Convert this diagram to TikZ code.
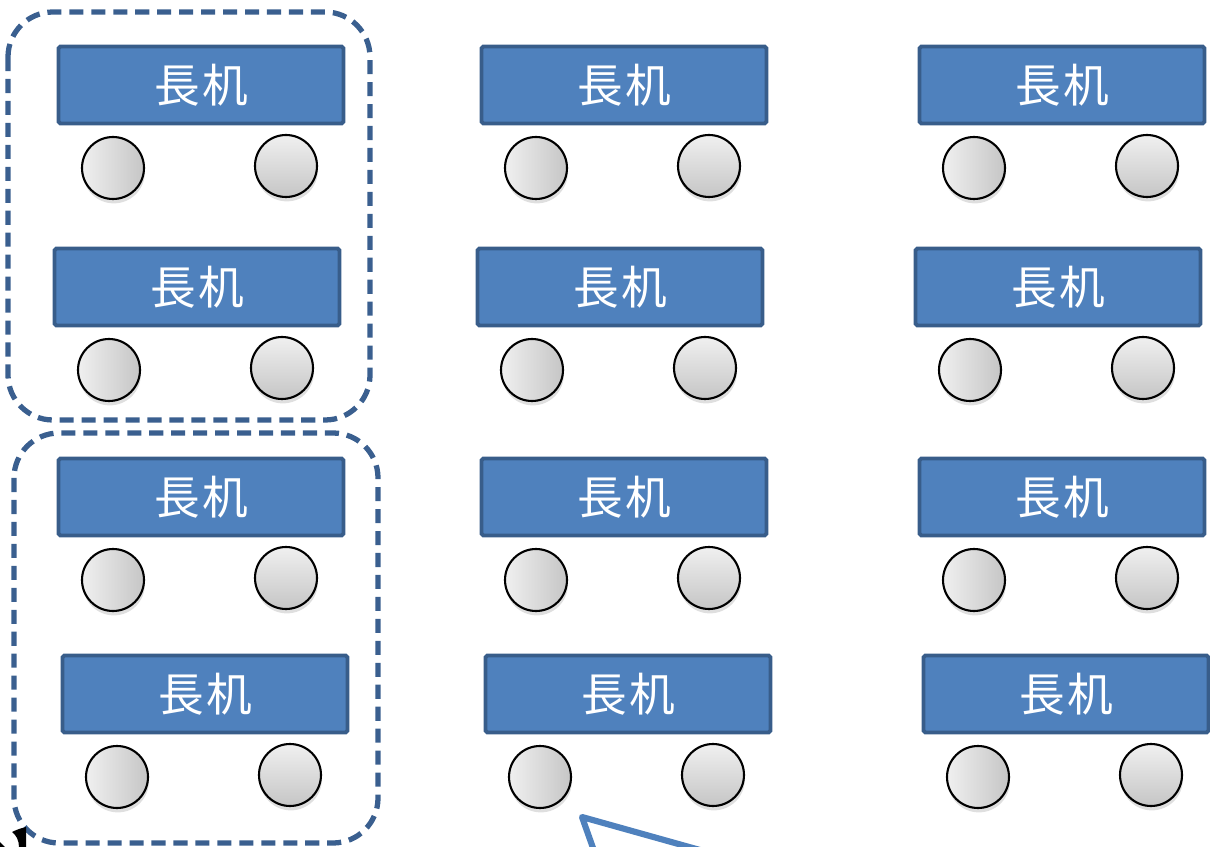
\documentclass[tikz,border=0pt]{standalone}
\usepackage{fontspec}
\newfontfamily\cjk{Noto Sans CJK JP}
\usepackage{tikz}
\usetikzlibrary{calc,shadows}
\definecolor{deskblue}{RGB}{79,129,189}
\definecolor{deskedge}{RGB}{56,93,138}
\definecolor{groupblue}{RGB}{58,95,143}
\definecolor{calloutblue}{RGB}{79,129,189}

\begin{document}
\begin{tikzpicture}[
  x=0.02cm, y=-0.02cm,
  desk/.style={draw=deskedge, fill=deskblue, line width=2.2pt, rounded corners=1pt, minimum width=5.7cm, minimum height=1.54cm, inner sep=0pt, text=white, font=\cjk\fontsize{26}{26}\selectfont},
  chairl/.style={circle, draw=black, line width=1.2pt, minimum size=1.24cm, inner sep=0pt, left color=gray!12, right color=gray!45, drop shadow={shadow xshift=0.5pt, shadow yshift=-2.5pt, opacity=0.25}},
  chairr/.style={circle, draw=black, line width=1.2pt, minimum size=1.24cm, inner sep=0pt, top color=gray!12, bottom color=gray!45, drop shadow={shadow xshift=0.5pt, shadow yshift=-2.5pt, opacity=0.25}},
  group/.style={draw=groupblue, line width=3pt, dash pattern=on 8pt off 4.5pt, rounded corners=0.9cm},
  callout/.style={draw=calloutblue, line width=3.5pt, line join=round}
]
\useasboundingbox (0,0) rectangle (1210,847);
\clip (0,0) rectangle (1210,847);

% desks
\node[desk] (d11) at (201,85) {長\kern1.5pt机};
\node[desk] (d12) at (197,287) {長\kern1.5pt机};
\node[desk] (d13) at (201,497) {長\kern1.5pt机};
\node[desk] (d14) at (205,694) {長\kern1.5pt机};
\node[desk] (d21) at (624,85) {長\kern1.5pt机};
\node[desk] (d22) at (620,287) {長\kern1.5pt机};
\node[desk] (d23) at (624,497) {長\kern1.5pt机};
\node[desk] (d24) at (628,694) {長\kern1.5pt机};
\node[desk] (d31) at (1062,85) {長\kern1.5pt机};
\node[desk] (d32) at (1058,287) {長\kern1.5pt机};
\node[desk] (d33) at (1062,497) {長\kern1.5pt机};
\node[desk] (d34) at (1066,694) {長\kern1.5pt机};

% chairs
\foreach \d in {d11,d12,d13,d14,d21,d22,d23,d24,d31,d32,d33,d34} {
  \node[chairl] (\d-l) at ($(\d)+(-88,83)$) {};
  \node[chairr] (\d-r) at ($(\d)+(85,81)$) {};
}

% groups
\draw[group] (8,12) rectangle (370,420);
\draw[group] (14,433) rectangle (378,843);

% callout
\coordinate (tip) at (582,817);
\draw[callout] ($(tip)+(16,45)$) -- (tip) -- ($(tip)+(150,42)$);

% cut-off mark
\fill[black] (12,832) .. controls (18,829) and (22,828) .. (26,827) -- (26,847) -- (19,847) .. controls (19,840) and (16,835) .. (12,832) -- cycle;
\fill[black] (0,842) -- (5,847) -- (0,847) -- cycle;
\end{tikzpicture}
\end{document}
